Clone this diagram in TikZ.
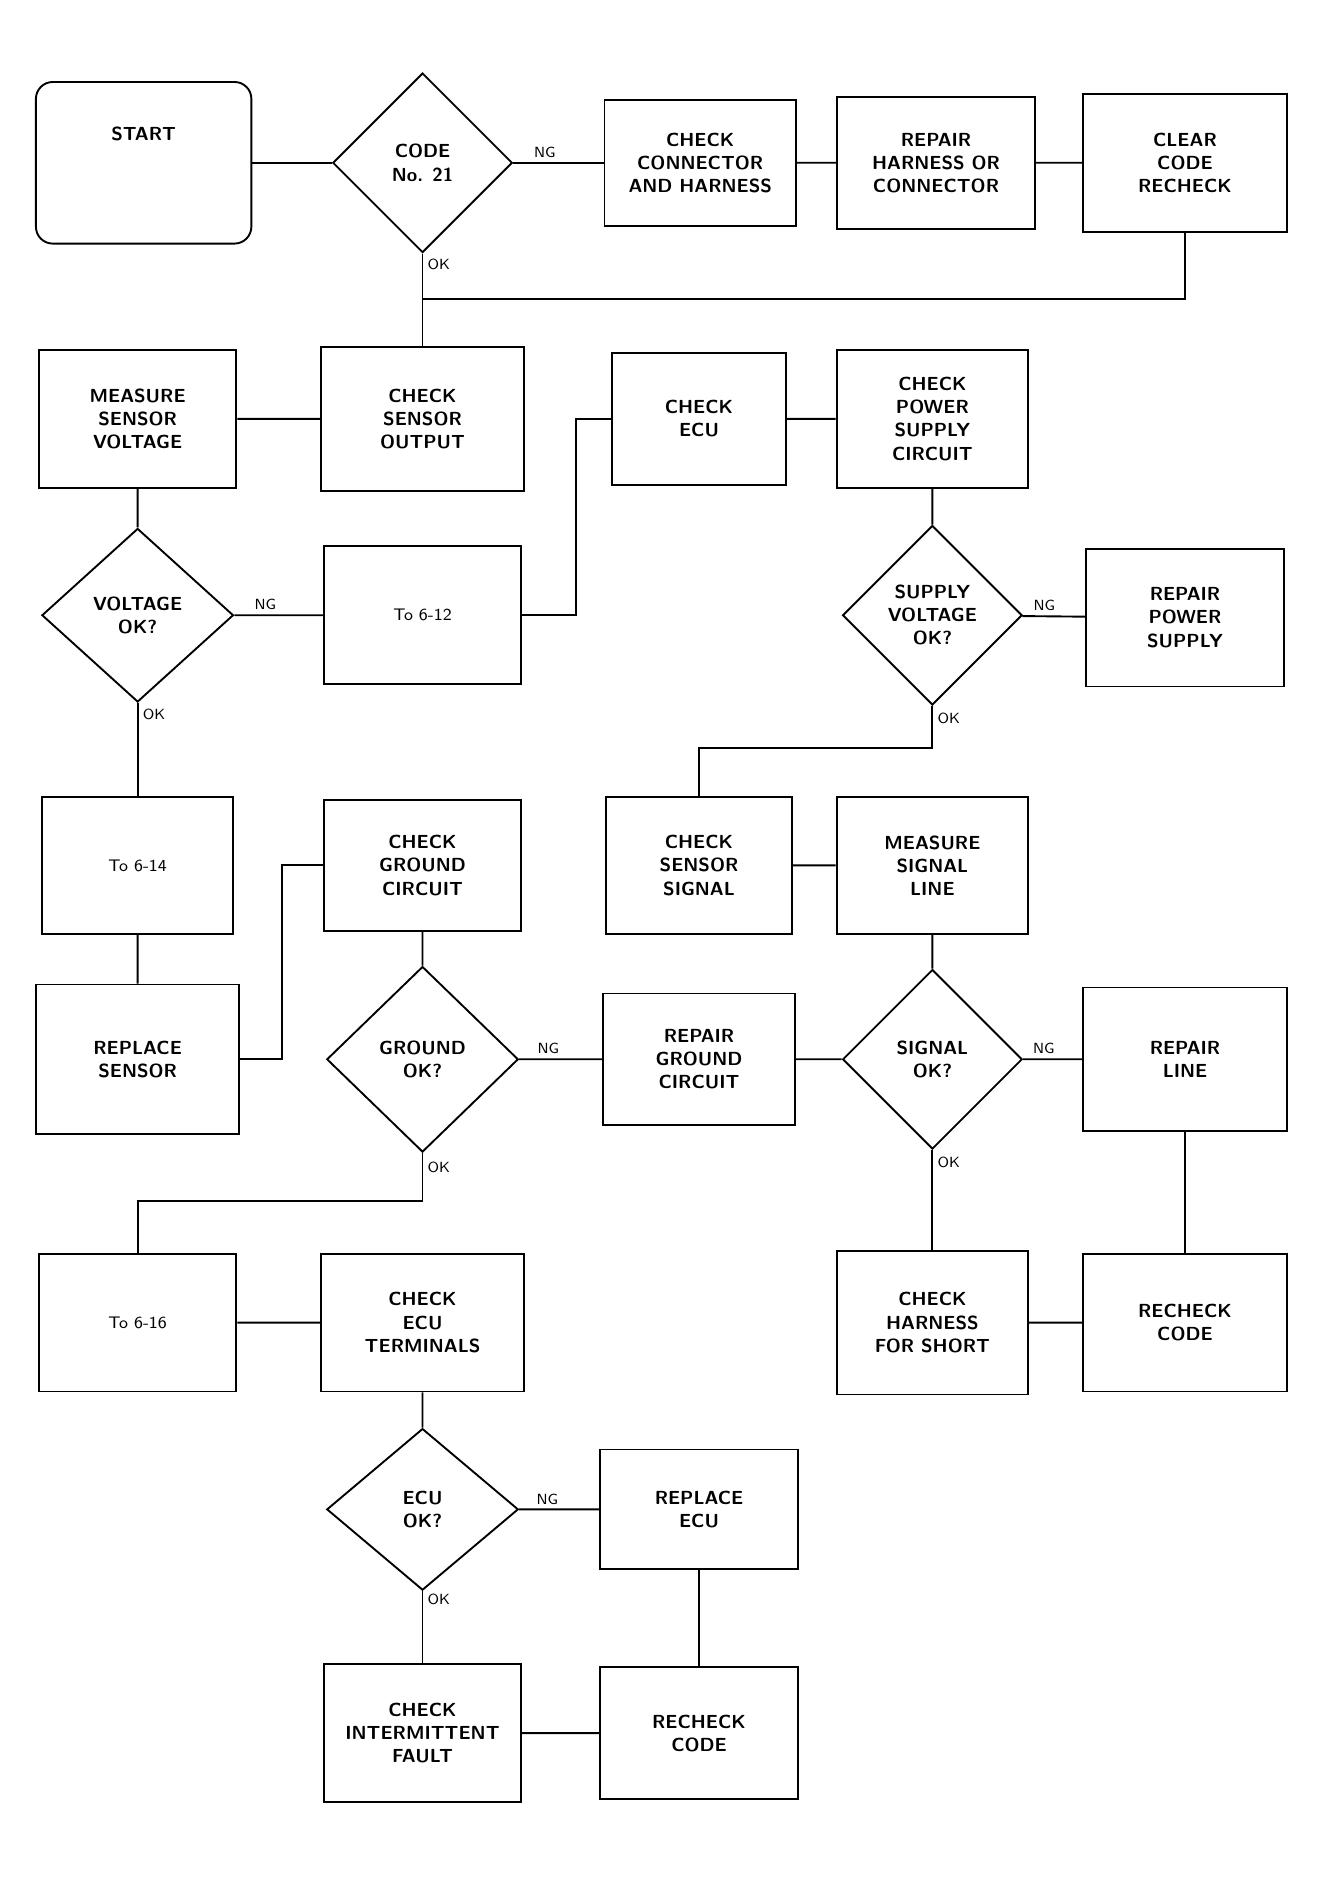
\documentclass[tikz,border=0pt]{standalone}
\usetikzlibrary{shapes.geometric}
\begin{document}
\begin{tikzpicture}[scale=0.2]
    \tikzstyle{every node}+=[inner sep=1pt, align=center, font=\sffamily\bfseries\small]
    \tikzstyle{box}=[draw=black, rectangle, line width=0.9pt]
    \tikzstyle{decision}=[draw=black, diamond, line width=0.9pt, inner sep=0pt]
    \tikzstyle{lbl}=[font=\sffamily\scriptsize, inner sep=2pt]
    \tikzstyle{goto}=[font=\sffamily\footnotesize]
    \useasboundingbox (0,0) rectangle (111.5,-157.4);
    % row 1
    \node [box, rounded corners=8pt, minimum width=3.6cm, minimum height=2.7cm] (start) at (12.0,-13.6) {START\\[0.6cm]};
    \node [decision, minimum width=3.0cm, minimum height=3.0cm] (d1) at (35.3,-13.6) {CODE\\No. 21};
    \node [box, minimum width=3.2cm, minimum height=2.1cm] (b1) at (58.5,-13.6) {CHECK\\CONNECTOR\\AND HARNESS};
    \node [box, minimum width=3.3cm, minimum height=2.2cm] (b2) at (78.2,-13.6) {REPAIR\\HARNESS OR\\CONNECTOR};
    \node [box, minimum width=3.4cm, minimum height=2.3cm] (b3) at (99.0,-13.6) {CLEAR\\CODE\\RECHECK};
    \coordinate (j1) at (35.3,-25.0);
    % row 2
    \node [box, minimum width=3.3cm, minimum height=2.3cm] (c1) at (11.5,-35.0) {MEASURE\\SENSOR\\VOLTAGE};
    \node [box, minimum width=3.4cm, minimum height=2.4cm] (c2) at (35.3,-35.0) {CHECK\\SENSOR\\OUTPUT};
    \node [box, minimum width=2.9cm, minimum height=2.2cm] (c3) at (58.4,-35.0) {CHECK\\ECU};
    \node [box, minimum width=3.2cm, minimum height=2.3cm] (c4) at (77.9,-35.0) {CHECK\\POWER\\SUPPLY\\CIRCUIT};
    % row 3
    \node [decision, minimum width=3.2cm, minimum height=2.9cm] (d2) at (11.5,-51.4) {VOLTAGE\\OK?};
    \node [box, goto, minimum width=3.3cm, minimum height=2.3cm] (e2) at (35.3,-51.4) {To 6-12};
    \node [decision, minimum width=3.0cm, minimum height=3.0cm] (d3) at (77.9,-51.4) {SUPPLY\\VOLTAGE\\OK?};
    \node [box, minimum width=3.3cm, minimum height=2.3cm] (e4) at (99.0,-51.6) {REPAIR\\POWER\\SUPPLY};
    % row 4
    \node [box, goto, minimum width=3.2cm, minimum height=2.3cm] (f1) at (11.5,-72.3) {To 6-14};
    \node [box, minimum width=3.3cm, minimum height=2.2cm] (f2) at (35.3,-72.3) {CHECK\\GROUND\\CIRCUIT};
    \node [box, minimum width=3.1cm, minimum height=2.3cm] (f3) at (58.4,-72.3) {CHECK\\SENSOR\\SIGNAL};
    \node [box, minimum width=3.2cm, minimum height=2.3cm] (f4) at (77.9,-72.3) {MEASURE\\SIGNAL\\LINE};
    % row 5
    \node [box, minimum width=3.4cm, minimum height=2.5cm] (g1) at (11.5,-88.5) {REPLACE\\SENSOR};
    \node [decision, minimum width=3.2cm, minimum height=3.1cm] (d4) at (35.3,-88.5) {GROUND\\OK?};
    \node [box, minimum width=3.2cm, minimum height=2.2cm] (g3) at (58.4,-88.5) {REPAIR\\GROUND\\CIRCUIT};
    \node [decision, minimum width=3.0cm, minimum height=3.0cm] (d5) at (77.9,-88.5) {SIGNAL\\OK?};
    \node [box, minimum width=3.4cm, minimum height=2.4cm] (g5) at (99.0,-88.5) {REPAIR\\LINE};
    % row 6
    \node [box, goto, minimum width=3.3cm, minimum height=2.3cm] (h1) at (11.5,-110.5) {To 6-16};
    \node [box, minimum width=3.4cm, minimum height=2.3cm] (h2) at (35.3,-110.5) {CHECK\\ECU\\TERMINALS};
    \node [box, minimum width=3.2cm, minimum height=2.4cm] (h4) at (77.9,-110.5) {CHECK\\HARNESS\\FOR SHORT};
    \node [box, minimum width=3.4cm, minimum height=2.3cm] (h5) at (99.0,-110.5) {RECHECK\\CODE};
    % row 7 and 8
    \node [decision, minimum width=3.2cm, minimum height=2.7cm] (d6) at (35.3,-126.1) {ECU\\OK?};
    \node [box, minimum width=3.3cm, minimum height=2.0cm] (i3) at (58.4,-126.1) {REPLACE\\ECU};
    \node [box, minimum width=3.3cm, minimum height=2.3cm] (j2) at (35.3,-144.8) {CHECK\\INTERMITTENT\\FAULT};
    \node [box, minimum width=3.3cm, minimum height=2.2cm] (j3) at (58.4,-144.8) {RECHECK\\CODE};
    % connectors
    \draw [black, line width=0.9pt] (start) -- (d1);
    \draw [black, line width=0.9pt] (d1) -- node [lbl, above, pos=0.35] {NG} (b1);
    \draw [black, line width=0.9pt] (b1) -- (b2);
    \draw [black, line width=0.9pt] (b2) -- (b3);
    \draw [black, line width=0.9pt] (b3.south) |- (j1);
    \draw [black, line width=0.9pt] (d1.south) -- node [lbl, right, pos=0.12] {OK} (c2.north);
    \draw [black, line width=0.9pt] (c2) -- (c1);
    \draw [black, line width=0.9pt] (c1) -- (d2);
    \draw [black, line width=0.9pt] (d2) -- node [lbl, above, pos=0.35] {NG} (e2);
    \draw [black, line width=0.9pt] (e2.east) -- ++(4.5,0) |- (c3.west);
    \draw [black, line width=0.9pt] (c3) -- (c4);
    \draw [black, line width=0.9pt] (c4) -- (d3);
    \draw [black, line width=0.9pt] (d3) -- node [lbl, above, pos=0.35] {NG} (e4);
    \draw [black, line width=0.9pt] (d3.south) -- node [lbl, right, pos=0.3] {OK} ++(0,-3.5) -| (f3.north);
    \draw [black, line width=0.9pt] (d2.south) -- node [lbl, right, pos=0.12] {OK} (f1.north);
    \draw [black, line width=0.9pt] (f3) -- (f4);
    \draw [black, line width=0.9pt] (f4) -- (d5);
    \draw [black, line width=0.9pt] (f1) -- (g1);
    \draw [black, line width=0.9pt] (g1.east) -- ++(3.5,0) |- (f2.west);
    \draw [black, line width=0.9pt] (f2) -- (d4);
    \draw [black, line width=0.9pt] (d4) -- node [lbl, above, pos=0.35] {NG} (g3);
    \draw [black, line width=0.9pt] (g3) -- (d5);
    \draw [black, line width=0.9pt] (d5) -- node [lbl, above, pos=0.35] {NG} (g5);
    \draw [black, line width=0.9pt] (d4.south) -- node [lbl, right, pos=0.3] {OK} ++(0,-4) -| (h1.north);
    \draw [black, line width=0.9pt] (d5.south) -- node [lbl, right, pos=0.12] {OK} (h4.north);
    \draw [black, line width=0.9pt] (g5) -- (h5);
    \draw [black, line width=0.9pt] (h1) -- (h2);
    \draw [black, line width=0.9pt] (h4) -- (h5);
    \draw [black, line width=0.9pt] (h2) -- (d6);
    \draw [black, line width=0.9pt] (d6) -- node [lbl, above, pos=0.35] {NG} (i3);
    \draw [black, line width=0.9pt] (i3) -- (j3);
    \draw [black, line width=0.9pt] (d6.south) -- node [lbl, right, pos=0.12] {OK} (j2.north);
    \draw [black, line width=0.9pt] (j2) -- (j3);
\end{tikzpicture}
\end{document}
